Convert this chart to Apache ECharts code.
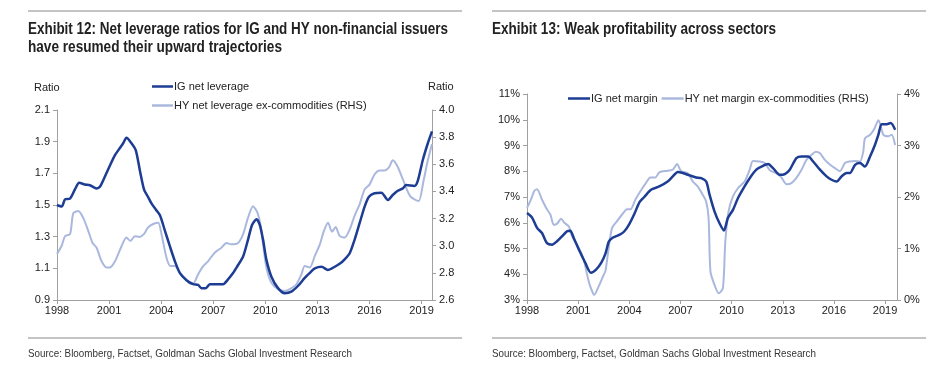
<!DOCTYPE html>
<html>
<head>
<meta charset="utf-8">
<script src="https://cdn.jsdelivr.net/npm/echarts@6/dist/echarts.min.js"></script>
<style>
html,body{margin:0;padding:0;background:#fff;}
#c{width:950px;height:374px;}
</style>
</head>
<body>
<div id="c"></div>
<script>
// ---------- Exhibit 12 data ----------
const igLevX = [1998.0,1998.27,1998.46,1998.75,1999.04,1999.28,1999.6,1999.9,2000.28,2000.47,2000.76,2001.05,2001.34,2001.62,2001.81,2002.0,2002.29,2002.54,2002.77,2003.02,2003.25,2003.44,2003.7,2003.93,2004.21,2004.5,2004.79,2005.08,2005.46,2005.84,2006.13,2006.32,2006.57,2006.8,2007.18,2007.57,2007.85,2008.14,2008.37,2008.72,2009.0,2009.24,2009.49,2009.68,2009.87,2010.06,2010.35,2010.73,2011.12,2011.5,2011.89,2012.27,2012.6,2012.85,2013.24,2013.6,2014.0,2014.3,2014.57,2014.86,2015.14,2015.43,2015.72,2015.97,2016.29,2016.68,2017.06,2017.34,2017.63,2017.92,2018.11,2018.59,2018.78,2019.07,2019.36,2019.6];
const igLevY = [1.50,1.49,1.535,1.54,1.60,1.64,1.63,1.625,1.605,1.615,1.68,1.75,1.815,1.86,1.89,1.925,1.89,1.845,1.72,1.595,1.55,1.51,1.47,1.435,1.34,1.24,1.145,1.07,1.025,1.0,0.995,0.975,0.975,1.0,1.0,1.0,1.03,1.07,1.11,1.175,1.28,1.375,1.41,1.375,1.28,1.155,1.047,0.975,0.943,0.953,0.99,1.04,1.075,1.1,1.11,1.09,1.11,1.13,1.157,1.195,1.28,1.385,1.49,1.552,1.574,1.578,1.532,1.563,1.59,1.605,1.626,1.62,1.652,1.784,1.89,1.965];
const hyLevX = [1998.0,1998.27,1998.46,1998.75,1998.94,1999.23,1999.51,1999.8,2000.05,2000.28,2000.57,2000.86,2001.05,2001.34,2001.68,2002.0,2002.23,2002.48,2002.77,2003.0,2003.25,2003.54,2003.83,2004.02,2004.31,2004.54,2004.79,2005.08,2005.35,2005.6,2005.84,2006.13,2006.42,2006.7,2006.99,2007.19,2007.47,2007.76,2008.05,2008.43,2008.72,2009.0,2009.29,2009.54,2009.73,2009.87,2010.06,2010.35,2010.73,2011.12,2011.41,2011.79,2012.08,2012.27,2012.56,2012.85,2013.14,2013.37,2013.61,2013.84,2014.05,2014.28,2014.57,2014.86,2015.14,2015.43,2015.72,2016.0,2016.29,2016.58,2016.86,2017.11,2017.34,2017.6,2017.92,2018.11,2018.34,2018.59,2018.84,2019.11,2019.35,2019.6];
const hyLevY = [2.94,3.0,3.07,3.085,3.24,3.255,3.205,3.11,3.02,2.985,2.885,2.84,2.84,2.885,2.985,3.06,3.035,3.07,3.065,3.085,3.135,3.16,3.17,3.085,2.91,2.85,2.85,2.80,2.765,2.725,2.72,2.79,2.85,2.885,2.935,2.96,2.985,3.02,3.01,3.02,3.085,3.205,3.29,3.245,3.145,3.01,2.84,2.727,2.68,2.666,2.68,2.716,2.79,2.85,2.84,2.925,3.01,3.108,3.17,3.103,3.138,3.072,3.06,3.12,3.22,3.305,3.415,3.45,3.525,3.555,3.555,3.575,3.63,3.587,3.49,3.427,3.366,3.342,3.33,3.477,3.624,3.75];

// ---------- Exhibit 13 data ----------
const igMarX = [1998.0,1998.29,1998.59,1998.88,1999.17,1999.47,1999.76,2000.05,2000.35,2000.54,2000.74,2001.09,2001.42,2001.75,2002.05,2002.35,2002.6,2002.8,2003.02,2003.41,2003.7,2004.0,2004.3,2004.6,2004.88,2005.27,2005.76,2006.25,2006.55,2006.84,2007.14,2007.53,2007.92,2008.22,2008.51,2008.71,2009.0,2009.29,2009.55,2009.78,2010.08,2010.37,2010.76,2011.06,2011.45,2011.75,2012.14,2012.43,2012.82,2013.12,2013.41,2013.8,2014.1,2014.49,2014.78,2015.18,2015.57,2015.86,2016.16,2016.45,2016.75,2016.94,2017.24,2017.53,2017.82,2018.12,2018.41,2018.61,2018.8,2019.1,2019.33,2019.59];
const igMarY = [6.38,6.21,5.80,5.60,5.21,5.15,5.28,5.47,5.67,5.69,5.41,4.89,4.44,4.06,4.18,4.44,4.80,5.27,5.42,5.53,5.66,5.95,6.35,6.8,7.0,7.28,7.41,7.6,7.8,7.97,7.93,7.84,7.76,7.73,7.6,7.08,6.43,5.98,5.7,6.18,6.5,6.95,7.41,7.73,8.06,8.18,8.28,8.12,7.86,7.89,8.06,8.51,8.57,8.57,8.38,8.06,7.8,7.67,7.6,7.8,7.93,7.93,8.25,8.32,8.18,8.57,9.03,9.42,9.83,9.83,9.87,9.61];
const hyMarX = [1998.0,1998.23,1998.43,1998.59,1998.88,1999.17,1999.37,1999.57,1999.76,2000.0,2000.19,2000.45,2000.64,2000.94,2001.13,2001.33,2001.62,2001.82,2001.95,2002.21,2002.5,2002.6,2002.79,2002.99,2003.28,2003.58,2003.87,2004.07,2004.36,2004.65,2004.95,2005.24,2005.53,2005.76,2006.25,2006.55,2006.8,2007.04,2007.43,2007.73,2008.02,2008.31,2008.51,2008.65,2008.76,2009.0,2009.24,2009.49,2009.63,2009.82,2010.08,2010.37,2010.76,2011.06,2011.25,2011.65,2011.94,2012.24,2012.63,2012.92,2013.22,2013.51,2013.8,2014.1,2014.39,2014.69,2014.94,2015.18,2015.47,2015.76,2016.06,2016.35,2016.65,2016.94,2017.24,2017.53,2017.72,2017.82,2018.12,2018.35,2018.61,2018.9,2019.2,2019.39,2019.59];
const hyMarY = [1.79,1.95,2.12,2.15,1.95,1.76,1.66,1.46,1.48,1.58,1.50,1.43,1.24,1.07,0.95,0.78,0.36,0.17,0.10,0.27,0.49,0.56,1.01,1.40,1.53,1.66,1.76,1.76,1.95,2.11,2.26,2.38,2.38,2.48,2.51,2.53,2.64,2.50,2.46,2.30,2.20,2.04,1.91,1.59,0.55,0.29,0.13,0.23,1.13,1.72,2.01,2.17,2.30,2.53,2.70,2.69,2.66,2.52,2.46,2.38,2.25,2.27,2.37,2.53,2.72,2.82,2.88,2.85,2.72,2.63,2.56,2.50,2.66,2.69,2.70,2.69,2.88,3.14,3.21,3.31,3.49,3.21,3.18,3.21,3.01];

const title12 = ['Exhibit 12: Net leverage ratios for IG and HY non-financial issuers', 'have resumed their upward trajectories'];
const title13 = 'Exhibit 13: Weak profitability across sectors';
const sourceText = 'Source: Bloomberg, Factset, Goldman Sachs Global Investment Research';
const names = ['IG net leverage','HY net leverage ex-commodities (RHS)','IG net margin','HY net margin ex-commodities (RHS)'];

const DARK = '#1d3c93';
const LIGHT = '#aab8de';
const AXIS = '#a0a0a0';
const FONT = '"Liberation Sans", Arial, sans-serif';
const TFONT = 'bold 16px "Liberation Sans", Arial, sans-serif';
const SFONT = '11px "Liberation Sans", Arial, sans-serif';

function pairs(xs, ys){ return xs.map((x,i)=>[x, ys[i]]); }

// condensed text: measure natural width and squeeze horizontally to target width
const mctx = document.createElement('canvas').getContext('2d');
function squeezed(text, font, x, y, targetW, fill){
  mctx.font = font;
  const w = mctx.measureText(text).width;
  return {type:'text', x:x, y:y, scaleX: targetW / w, scaleY:1,
    style:{text:text, font:font, fill:fill, textVerticalAlign:'top', textAlign:'left'}};
}

const chart = echarts.init(document.getElementById('c'), null, {renderer:'canvas'});

const axisLabelStyle = {color:'#222', fontFamily:FONT, fontSize:11};
function xAx(gi, max){
  return {type:'value', gridIndex:gi, min:1998, max:max, interval:3,
    axisLine:{show:true, lineStyle:{color:AXIS, width:1}},
    axisTick:{show:true, length:4, lineStyle:{color:AXIS}},
    axisLabel:Object.assign({margin:5, showMaxLabel:false, formatter:v=> (Math.abs(v-Math.round(v))<1e-6 && Math.round(v)%3===0) ? String(Math.round(v)) : ''}, axisLabelStyle),
    splitLine:{show:false}};
}
function yAx(gi, pos, min, max, interval, fmt){
  return {type:'value', gridIndex:gi, position:pos, min:min, max:max, interval:interval,
    axisLine:{show:true, lineStyle:{color:AXIS, width:1}},
    axisTick:{show:true, length:4, lineStyle:{color:AXIS}},
    axisLabel:Object.assign({margin:7, formatter:fmt}, axisLabelStyle),
    splitLine:{show:false}};
}

const option = {
  animation:false,
  backgroundColor:'#fff',
  grid:[
    {left:57, top:110, width:375, height:190},
    {left:527, top:94, width:370, height:206}
  ],
  xAxis:[ xAx(0, 2019.6), xAx(1, 2019.7) ],
  yAxis:[
    yAx(0,'left',0.9,2.1,0.2,v=>v.toFixed(1)),
    yAx(0,'right',2.6,4.0,0.2,v=>v.toFixed(1)),
    yAx(1,'left',3,11,1,v=>Math.round(v)+'%'),
    yAx(1,'right',0,4,1,v=>Math.round(v)+'%')
  ],
  legend:[
    {orient:'vertical', left:152, top:81, padding:0, itemWidth:21, itemHeight:2.5, itemGap:8, icon:'rect',
     data:[names[0],names[1]], textStyle:{color:'#222', fontFamily:FONT, fontSize:11, padding:[0,0,0,-4]}},
    {orient:'horizontal', left:568, top:93, padding:0, itemWidth:22, itemHeight:2.5, itemGap:4, icon:'rect',
     data:[names[2],names[3]], textStyle:{color:'#222', fontFamily:FONT, fontSize:11, padding:[0,0,0,-4]}}
  ],
  series:[
    {name:names[1], type:'line', xAxisIndex:0, yAxisIndex:1, data:pairs(hyLevX,hyLevY), symbol:'none', smooth:0.25, lineStyle:{color:LIGHT, width:2}, itemStyle:{color:LIGHT}},
    {name:names[0], type:'line', xAxisIndex:0, yAxisIndex:0, data:pairs(igLevX,igLevY), symbol:'none', smooth:0.25, lineStyle:{color:DARK, width:2.5}, itemStyle:{color:DARK}},
    {name:names[3], type:'line', xAxisIndex:1, yAxisIndex:3, data:pairs(hyMarX,hyMarY), symbol:'none', smooth:0.25, lineStyle:{color:LIGHT, width:2}, itemStyle:{color:LIGHT}},
    {name:names[2], type:'line', xAxisIndex:1, yAxisIndex:2, data:pairs(igMarX,igMarY), symbol:'none', smooth:0.25, lineStyle:{color:DARK, width:2.5}, itemStyle:{color:DARK}}
  ],
  graphic:[
    {type:'rect', shape:{x:28, y:10, width:434, height:2}, style:{fill:'#c4c4c4'}},
    {type:'rect', shape:{x:492, y:10, width:434, height:2}, style:{fill:'#c4c4c4'}},
    {type:'rect', shape:{x:28, y:337, width:434, height:2}, style:{fill:'#c4c4c4'}},
    {type:'rect', shape:{x:492, y:337, width:434, height:2}, style:{fill:'#c4c4c4'}},
    squeezed(title12[0], TFONT, 28, 22, 420, '#222'),
    squeezed(title12[1], TFONT, 28, 40, 254, '#222'),
    squeezed(title13, TFONT, 492, 22, 284, '#222'),
    {type:'text', x:34, y:82, style:{text:'Ratio', font:SFONT, fill:'#222', textVerticalAlign:'top'}},
    {type:'text', x:428, y:81, style:{text:'Ratio', font:SFONT, fill:'#222', textVerticalAlign:'top'}},
    squeezed(sourceText, SFONT, 28, 348, 324, '#333'),
    squeezed(sourceText, SFONT, 492, 348, 324, '#333')
  ]
};
chart.setOption(option);
</script>
</body>
</html>
